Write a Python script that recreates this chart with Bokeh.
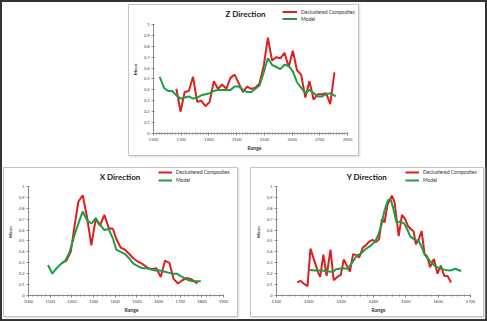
from bokeh.plotting import figure
from bokeh.models import (Range1d, FixedTicker, SingleIntervalTicker, NumeralTickFormatter,
                          Legend, LegendItem, Label)
from bokeh.layouts import column, row
from bokeh.embed import file_html
from bokeh.resources import INLINE

# ---------------- data ----------------
z_decl_range = [1665, 1695, 1725, 1755, 1785, 1815, 1845, 1875, 1905, 1935, 1965, 1995,
                2025, 2055, 2085, 2115, 2145, 2175, 2205, 2235, 2265, 2295, 2325, 2355,
                2385, 2415, 2445, 2475, 2505, 2535, 2565, 2595, 2625, 2655, 2685, 2715,
                2745, 2775, 2805]
z_decl_mean = [0.41, 0.20, 0.38, 0.39, 0.52, 0.29, 0.30, 0.25, 0.29, 0.48, 0.41, 0.45,
               0.41, 0.51, 0.54, 0.46, 0.38, 0.43, 0.41, 0.42, 0.46, 0.62, 0.88, 0.67,
               0.70, 0.69, 0.74, 0.61, 0.76, 0.58, 0.54, 0.33, 0.48, 0.31, 0.36, 0.36,
               0.37, 0.27, 0.56]
z_model_range = [1545, 1575, 1605, 1635, 1665, 1695, 1725, 1755, 1785, 1815, 1845, 1875,
                 1905, 1935, 1965, 1995, 2025, 2055, 2085, 2115, 2145, 2175, 2205, 2235,
                 2265, 2295, 2325, 2355, 2385, 2415, 2445, 2475, 2505, 2535, 2565, 2595,
                 2625, 2655, 2685, 2715, 2745, 2775, 2815]
z_model_mean = [0.52, 0.42, 0.39, 0.39, 0.35, 0.32, 0.33, 0.34, 0.32, 0.33, 0.35, 0.36,
                0.37, 0.39, 0.40, 0.40, 0.40, 0.40, 0.43, 0.43, 0.40, 0.38, 0.38, 0.41,
                0.44, 0.56, 0.69, 0.63, 0.61, 0.59, 0.63, 0.62, 0.57, 0.47, 0.42, 0.37,
                0.40, 0.37, 0.34, 0.34, 0.36, 0.37, 0.34]
z_ticks = [1500, 1700, 1900, 2100, 2300, 2500, 2700, 2900]

x_decl_range = [1155, 1175, 1195, 1215, 1230, 1250, 1270, 1290, 1310, 1330, 1350, 1370,
                1390, 1405, 1425, 1445, 1465, 1485, 1505, 1525, 1545, 1565, 1590, 1610,
                1630, 1650, 1670, 1690, 1710, 1730, 1750, 1765, 1780]
x_decl_mean = [0.30, 0.32, 0.40, 0.67, 0.86, 0.92, 0.72, 0.46, 0.70, 0.64, 0.74, 0.62,
               0.61, 0.52, 0.44, 0.42, 0.38, 0.34, 0.31, 0.29, 0.26, 0.24, 0.25, 0.17,
               0.32, 0.30, 0.15, 0.11, 0.14, 0.16, 0.15, 0.13, 0.11]
x_model_range = [1090, 1110, 1130, 1150, 1170, 1190, 1210, 1230, 1250, 1270, 1290, 1310,
                 1330, 1350, 1370, 1390, 1405, 1425, 1445, 1465, 1485, 1505, 1525, 1545,
                 1565, 1585, 1605, 1625, 1645, 1665, 1685, 1700, 1720, 1740, 1760, 1780,
                 1795]
x_model_mean = [0.28, 0.20, 0.25, 0.29, 0.32, 0.40, 0.54, 0.66, 0.77, 0.69, 0.66, 0.71,
                0.65, 0.60, 0.61, 0.52, 0.42, 0.40, 0.38, 0.34, 0.29, 0.27, 0.25, 0.25,
                0.24, 0.23, 0.23, 0.22, 0.21, 0.20, 0.20, 0.18, 0.16, 0.14, 0.13, 0.13,
                0.13]
x_ticks = [1000, 1100, 1200, 1300, 1400, 1500, 1600, 1700, 1800, 1900]

y_decl_range = [5164, 5174, 5184, 5196, 5205, 5217, 5229, 5235, 5245, 5255, 5267, 5277,
                5288, 5299, 5308, 5319, 5327, 5337, 5347, 5356, 5367, 5376, 5387, 5397,
                5408, 5417, 5426, 5434, 5444, 5457, 5465, 5478, 5488, 5498, 5506, 5515,
                5524, 5531, 5539, 5549, 5558, 5566, 5575, 5587, 5598, 5608, 5619, 5629,
                5640]
y_decl_mean = [0.12, 0.135, 0.11, 0.085, 0.43, 0.32, 0.21, 0.17, 0.375, 0.18, 0.42, 0.14,
               0.17, 0.19, 0.33, 0.265, 0.22, 0.38, 0.37, 0.35, 0.44, 0.46, 0.495, 0.51,
               0.49, 0.515, 0.70, 0.67, 0.84, 0.915, 0.86, 0.545, 0.74, 0.70, 0.64, 0.61,
               0.59, 0.47, 0.51, 0.59, 0.38, 0.36, 0.26, 0.335, 0.20, 0.275, 0.18, 0.18,
               0.12]
y_model_range = [5203, 5220, 5240, 5263, 5274, 5284, 5303, 5319, 5334, 5349, 5360, 5373,
                 5388, 5404, 5414, 5424, 5434, 5445, 5454, 5462, 5471, 5483, 5495, 5504,
                 5514, 5528, 5540, 5550, 5558, 5571, 5583, 5596, 5609, 5622, 5637, 5653,
                 5671]
y_model_mean = [0.235, 0.23, 0.23, 0.22, 0.215, 0.24, 0.25, 0.245, 0.30, 0.37, 0.38, 0.42,
                0.45, 0.49, 0.55, 0.64, 0.78, 0.875, 0.875, 0.79, 0.67, 0.68, 0.66, 0.61,
                0.54, 0.51, 0.50, 0.44, 0.375, 0.33, 0.29, 0.26, 0.245, 0.235, 0.23, 0.245,
                0.225]
y_ticks = [5100, 5200, 5300, 5400, 5500, 5600, 5700]

titles = ["Z Direction", "X Direction", "Y Direction"]
legend_labels = ["Declustered Composites", "Model"]
x_axis_label = "Range"
y_axis_label = "Mean"

RED = "#DD1F1F"
GREEN = "#1E9C48"
FONT = "Lato"


def panel(title, xd, yd, xm, ym, ticks, minor_step, xend,
          width, height, ml, mb, yend, title_x, title_y, leg_x, leg_y, leg_glyph, leg_h):
    xstart, xstop = ticks[0], ticks[-1]
    p = figure(width=width, height=height, output_backend="svg", toolbar_location=None,
               x_range=Range1d(xstart, xend), y_range=Range1d(0, yend),
               min_border_left=ml, min_border_right=3, min_border_top=0,
               min_border_bottom=mb)
    p.outline_line_color = None
    p.xgrid.visible = False
    p.ygrid.visible = False
    p.background_fill_color = "white"
    p.border_fill_color = "white"

    r1 = p.line(xd, yd, line_color=RED, line_width=2)
    r2 = p.line(xm, ym, line_color=GREEN, line_width=2)

    xa = p.xaxis[0]
    xa.ticker = FixedTicker(ticks=ticks,
                            minor_ticks=list(range(xstart, xstop + 1, minor_step)))
    xa.bounds = (xstart, xstop)
    ya = p.yaxis[0]
    ya.ticker = SingleIntervalTicker(interval=0.1, num_minor_ticks=0)
    ya.bounds = (0, 1)
    ya.formatter = NumeralTickFormatter(format="0.[0]")
    xa.formatter = NumeralTickFormatter(format="0")
    for ax in (xa, ya):
        ax.axis_line_color = "#8a8a8a"
        ax.major_tick_line_color = "#8a8a8a"
        ax.minor_tick_line_color = "#8a8a8a"
        ax.major_tick_in = 1
        ax.major_tick_out = 2
        ax.minor_tick_in = 1
        ax.minor_tick_out = 1
        ax.major_label_text_font = FONT
        ax.major_label_text_font_size = "4px"
        ax.major_label_text_color = "#404040"
        ax.major_label_standoff = 2
        ax.axis_label_text_font = FONT
        ax.axis_label_text_font_style = "bold"
        ax.axis_label_text_color = "#333333"
        ax.axis_label_standoff = 1
    xa.axis_label = x_axis_label
    xa.axis_label_text_font_size = "5px"
    ya.axis_label = y_axis_label
    ya.axis_label_text_font_size = "4.5px"
    ya.axis_label_standoff = 3

    p.add_layout(Label(x=title_x, y=title_y, x_units="screen", y_units="screen",
                       text=title, text_font=FONT, text_font_style="bold",
                       text_font_size="8px", text_align="center",
                       text_baseline="middle", text_color="#1a1a1a"))

    leg = Legend(items=[LegendItem(label=legend_labels[0], renderers=[r1]),
                        LegendItem(label=legend_labels[1], renderers=[r2])],
                 location=(leg_x, leg_y))
    leg.border_line_color = None
    leg.background_fill_alpha = 0
    leg.padding = 0
    leg.margin = 0
    leg.spacing = 0
    leg.glyph_width = leg_glyph
    leg.glyph_height = leg_h
    leg.label_height = leg_h
    leg.label_standoff = 4
    leg.label_text_font = FONT
    leg.label_text_font_size = "5px"
    leg.label_text_color = "#333333"
    p.add_layout(leg)

    p.styles = {"box-shadow": "0 0 0 1px #c4c4c4, 1px 1px 2px 1px #d8d8d8"}
    return p


pz = panel(titles[0], z_decl_range, z_decl_mean, z_model_range, z_model_mean,
           z_ticks, 20, 2957, 229, 150, 22, 22, 1.174,
           92, 120, 129, 111, 15, 7)
px = panel(titles[1], x_decl_range, x_decl_mean, x_model_range, x_model_mean,
           x_ticks, 20, 1950.5, 233, 148, 23, 21, 1.165,
           91.5, 119, 130, 111, 14, 8)
py = panel(titles[2], y_decl_range, y_decl_mean, y_model_range, y_model_mean,
           y_ticks, 20, 5731, 232, 148, 25, 21, 1.165,
           90.5, 119, 129, 111, 14, 8)

pz.margin = (5, 0, 0, 129)
px.margin = (13, 0, 0, 4)
py.margin = (13, 0, 0, 14)

layout = column(pz, row(px, py), width=487, height=321, sizing_mode="fixed")
layout.styles = {"box-shadow": "inset 0 0 0 2px #333333", "background-color": "white"}

open("out.html", "w").write(file_html(layout, INLINE))
